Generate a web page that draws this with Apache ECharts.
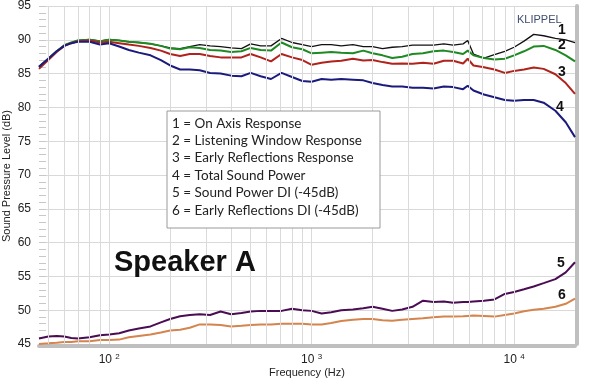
<!DOCTYPE html>
<html><head><meta charset="utf-8">
<script src="https://cdn.jsdelivr.net/npm/echarts@6/dist/echarts.min.js"></script>
<style>html,body{margin:0;padding:0;background:#fff}#c{width:600px;height:384px}</style>
</head><body><div id="c"></div>
<script>
const freqs = [45,50,55,60,65,70,80,90,
  100,112,125,140,160,180,200,224,250,280,315,355,400,450,500,560,630,710,800,900,
  1000,1120,1250,1400,1600,1800,2000,2240,2500,2800,3150,3550,4000,4500,5000,5600,5900,6300,7100,8000,9000,
  10000,11200,12500,14000,16000,18000,20000];

const onAxis = [86.0,87.2,88.3,89.2,89.6,89.9,90.05,89.8,
  90.06,89.9,89.7,89.6,89.4,89.1,88.8,88.7,89.0,89.3,89.1,89.0,88.8,88.7,89.4,89.1,89.1,90.2,89.6,89.3,
  89.0,89.3,89.3,89.1,89.3,89.0,89.0,88.7,88.9,89.0,89.2,89.2,89.2,89.4,89.2,89.4,89.9,87.9,87.3,87.8,88.3,
  88.9,89.8,90.8,90.6,90.2,90.0,89.6];

const listeningWindow = [86.0,87.2,88.3,89.2,89.6,89.9,90.0,89.8,
  90.0,89.9,89.7,89.6,89.4,89.1,88.7,88.6,88.9,88.8,88.5,88.4,88.2,88.3,88.8,88.5,88.4,89.6,88.9,88.6,
  88.0,88.1,88.2,88.1,88.0,88.4,88.0,87.7,87.3,87.5,87.9,88.0,88.3,88.4,88.2,87.9,88.4,87.7,87.3,87.1,87.2,
  87.7,88.3,89.0,89.1,88.5,87.7,86.8];

const earlyReflections = [85.7,87.0,88.2,89.1,89.5,89.8,89.9,89.6,
  89.7,89.5,89.3,89.1,88.8,88.4,87.9,87.6,87.9,87.9,87.6,87.4,87.4,87.4,87.9,87.4,86.8,87.9,87.4,87.0,
  86.3,86.6,86.8,86.9,87.2,86.95,87.0,86.7,86.45,86.5,86.45,86.6,86.45,86.9,86.9,86.5,87.2,86.2,85.95,85.6,85.1,
  85.4,85.6,85.9,85.7,84.9,83.6,82.0];

const totalPower = [86.0,87.2,88.3,89.1,89.5,89.7,89.7,89.3,
  89.5,89.0,88.5,88.1,87.7,87.0,86.2,85.6,85.6,85.5,85.1,85.0,84.7,84.6,85.1,84.6,84.2,85.1,84.5,83.9,
  83.8,84.2,84.1,84.2,84.1,84.0,83.6,83.3,83.1,83.1,82.9,82.9,82.8,83.1,83.0,82.7,83.2,82.5,81.9,81.5,81.1,
  81.0,81.1,81.1,80.7,79.5,77.8,75.6];

const soundPowerDI = [45.8,46.1,46.2,46.1,45.9,45.8,46.0,46.3,
  46.4,46.6,47.0,47.3,47.6,48.2,48.7,49.1,49.3,49.4,49.3,49.8,49.4,49.6,49.8,49.9,49.9,49.9,50.2,50.0,
  49.9,49.5,49.7,50.0,50.1,50.3,50.5,50.2,49.9,50.1,50.5,51.4,51.2,51.3,51.1,51.2,51.2,51.3,51.4,51.6,52.4,
  52.7,53.1,53.5,54.0,54.6,55.6,57.1];

const earlyReflectionsDI = [45.0,45.1,45.2,45.3,45.3,45.4,45.4,45.6,
  45.6,45.65,46.0,46.2,46.4,46.7,47.0,47.1,47.4,47.9,47.9,47.8,47.6,47.7,47.8,47.9,47.9,48.0,48.0,48.0,
  47.9,47.9,48.1,48.4,48.6,48.7,48.7,48.5,48.45,48.6,48.7,48.8,48.95,49.05,49.05,49.1,49.15,49.2,49.15,49.05,49.3,
  49.5,49.85,50.05,50.2,50.5,50.95,51.7];

const curveLabels = ['1','2','3','4','5','6'];
const legendLines = [
  '1 = On Axis Response',
  '2 = Listening Window Response',
  '3 = Early Reflections Response',
  '4 = Total Sound Power',
  '5 = Sound Power DI (-45dB)',
  '6 = Early Reflections DI (-45dB)'
];
const yAxisTitle = 'Sound Pressure Level (dB)';
const xAxisTitle = 'Frequency (Hz)';
const gridFreqs = [50,60,70,80,90,100,200,300,400,500,600,700,800,900,1000,
  2000,3000,4000,5000,6000,7000,8000,9000,10000];
const yMin = 45, yMax = 95, yStep = 5;
const xMin = 45, xMax = 20000;

const seriesData = [onAxis, listeningWindow, earlyReflections, totalPower, soundPowerDI, earlyReflectionsDI];
const colors = ['#111111', '#1f8a22', '#b0221c', '#1b1b7e', '#4a0c52', '#d4844c'];
const widths = [1.3, 2, 2, 2, 2, 2];
const labelOffsets = [[-13,-12.5],[-13,-16],[-13,-22],[-15,-30],[-14,1],[-13,-4]];

const AX_FONT = '"Liberation Sans", Arial, sans-serif';

const series = [{
  type: 'line', data: [], z: 1, silent: true,
  markLine: {
    silent: true, symbol: ['none','none'], animation: false,
    label: {show: false},
    lineStyle: {color: '#dadada', width: 1, type: 'solid'},
    emphasis: {disabled: true},
    data: gridFreqs.map(f => ({xAxis: f}))
  }
}];
seriesData.forEach((arr, i) => {
  series.push({
    type: 'line', z: 3, symbol: 'none', showSymbol: false, animation: false,
    data: freqs.map((f, k) => [f, arr[k]]),
    lineStyle: {color: colors[i], width: widths[i]},
    itemStyle: {color: colors[i]},
    endLabel: {
      show: true, formatter: () => curveLabels[i], offset: labelOffsets[i],
      align: 'center', verticalAlign: 'middle', distance: 0,
      color: '#111', fontWeight: 'bold', fontSize: 14, fontFamily: AX_FONT
    }
  });
});

const chart = echarts.init(document.getElementById('c'), null, {renderer: 'canvas'});
chart.setOption({
  animation: false,
  backgroundColor: '#fff',
  grid: {left: 39, top: 6, width: 536, height: 338, outerBoundsMode: 'none', containLabel: false},
  xAxis: {
    type: 'log', logBase: 10, min: xMin, max: xMax, offset: 2,
    axisLine: {show: true, lineStyle: {color: '#bfbfbf', width: 4}},
    axisTick: {show: false}, splitLine: {show: false},
    axisLabel: {
      margin: 7, color: '#222', fontFamily: AX_FONT,
      formatter: v => {
        const e = Math.log10(v);
        if (Math.abs(e - Math.round(e)) < 1e-6) return '{b|10} {s|' + Math.round(e) + '}';
        return '';
      },
      rich: {b: {fontSize: 12, fontFamily: AX_FONT, color: '#222', verticalAlign: 'bottom'},
             s: {fontSize: 8, fontFamily: AX_FONT, color: '#222', verticalAlign: 'top', padding: [0,0,5,0]}}
    },
    name: xAxisTitle, nameLocation: 'middle', nameGap: 21, nameMoveOverlap: false,
    nameTextStyle: {fontSize: 11, color: '#222', fontFamily: AX_FONT}
  },
  yAxis: [{
    type: 'value', min: yMin, max: yMax, interval: yStep,
    axisLine: {show: false},
    axisTick: {show: true, inside: true, length: 7, lineStyle: {color: '#c8c8c8'}},
    minorTick: {show: true, splitNumber: 5, length: 7, lineStyle: {color: '#c8c8c8'}},
    splitLine: {lineStyle: {color: '#d9d9d9'}},
    axisLabel: {color: '#222', fontSize: 12, margin: 8, fontFamily: AX_FONT}
  }, {
    type: 'value', min: yMin, max: yMax, interval: yStep, position: 'right', offset: 2,
    axisLine: {show: true, lineStyle: {color: '#bfbfbf', width: 4}},
    axisTick: {show: false}, axisLabel: {show: false}, splitLine: {show: false}
  }],
  graphic: [
    {type: 'text', z: 11, x: 7, y: 176, rotation: Math.PI / 2,
     style: {text: yAxisTitle, font: '11px "Liberation Sans", Arial, sans-serif', fill: '#222',
             align: 'center', verticalAlign: 'middle'}},
    {type: 'rect', z: 10, shape: {x: 167, y: 111, width: 213, height: 117},
     style: {fill: '#fff', stroke: '#9a9a9a', lineWidth: 1}},
    {type: 'text', z: 11, x: 172, y: 114.6,
     style: {text: legendLines.join('\n'), font: '13.5px Lato, "Open Sans", sans-serif', fill: '#222',
             lineHeight: 17.4, verticalAlign: 'top'}},
    {type: 'text', z: 11, x: 114, y: 248,
     style: {text: 'Speaker A', font: 'bold 29px "Liberation Sans", Arial, sans-serif', fill: '#111', verticalAlign: 'top'}},
    {type: 'text', z: 11, x: 517, y: 14,
     style: {text: 'KLIPPEL', font: '11px "Liberation Sans", Arial, sans-serif', fill: '#3f4e70', verticalAlign: 'top'}}
  ],
  series: series
});
</script></body></html>
